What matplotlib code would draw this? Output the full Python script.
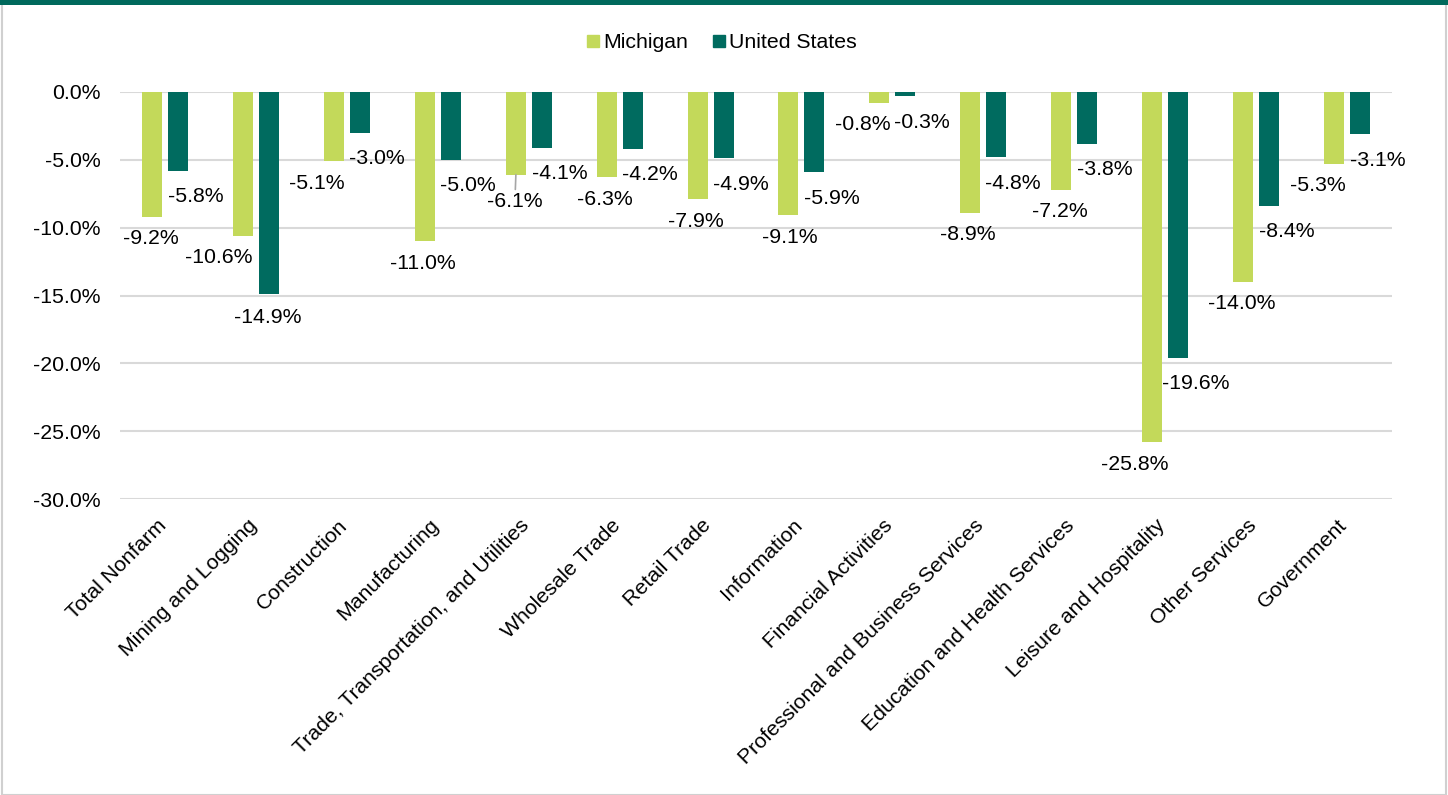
import matplotlib
matplotlib.use("Agg")
import matplotlib.pyplot as plt
import numpy as np
from matplotlib.patches import Patch, Rectangle

categories = [
    "Total Nonfarm", "Mining and Logging", "Construction", "Manufacturing",
    "Trade, Transportation, and Utilities", "Wholesale Trade", "Retail Trade",
    "Information", "Financial Activities", "Professional and Business Services",
    "Education and Health Services", "Leisure and Hospitality",
    "Other Services", "Government",
]
michigan = [-9.2, -10.6, -5.1, -11.0, -6.1, -6.3, -7.9, -9.1, -0.8, -8.9, -7.2, -25.8, -14.0, -5.3]
united_states = [-5.8, -14.9, -3.0, -5.0, -4.1, -4.2, -4.9, -5.9, -0.3, -4.8, -3.8, -19.6, -8.4, -3.1]
y_ticks = [0, -5, -10, -15, -20, -25, -30]

# label nudges (pixels) to mimic the reference's placement
mi_dx = [-2, -25, -17, -2, -1, -2, -2, 1, -16, -2, -1, -17, -1, -16]
us_dx = [17, -2, 17, 17, 18, 17, 17, 17, 17, 17, 18, 18, 18, 18]

LIGHT = "#C3D95A"
DARK = "#006B5F"

plt.rcParams["font.family"] = ["Liberation Sans", "DejaVu Sans"]

fig = plt.figure(figsize=(14.48, 7.95), dpi=100)
ax = fig.add_axes([0.0829, 0.3723, 0.9613 - 0.0829, 0.8843 - 0.3723])

x = np.arange(len(categories))
w = 0.22
off = 0.143
ax.bar(x - off, michigan, w, color=LIGHT, label="Michigan", zorder=3)
ax.bar(x + off, united_states, w, color=DARK, label="United States", zorder=3)

for i, v in enumerate(michigan):
    dy = -22
    kw = {}
    if categories[i].startswith("Trade"):
        dy = -27
        kw = dict(arrowprops=dict(arrowstyle="-", color="#A6A6A6", lw=1.2,
                                  shrinkA=0, shrinkB=0))
    ax.annotate(f"{v:.1f}%", (x[i] - off, v), xytext=(mi_dx[i], dy),
                textcoords="offset pixels", ha="center", va="center",
                fontsize=15.3, color="#000000", **kw)
for i, v in enumerate(united_states):
    dy = -23 if i == 1 else -26
    ax.annotate(f"{v:.1f}%", (x[i] + off, v), xytext=(us_dx[i], dy),
                textcoords="offset pixels", ha="center", va="center",
                fontsize=15.3, color="#000000")

ax.set_xlim(-0.5, len(categories) - 0.5)
ax.set_ylim(-30, 0)
ax.set_yticks(y_ticks)
ax.set_yticklabels([f"{t:.1f}%" for t in y_ticks], fontsize=15.3)
# rotated labels sit a little left of the group centre in the reference
ax.set_xticks(x - 0.1)
ax.set_xticklabels(categories, rotation=45, ha="right", va="top",
                   rotation_mode="anchor", fontsize=15.3)
ax.tick_params(axis="y", length=0, pad=14)
ax.tick_params(axis="x", length=0, pad=12)
ax.grid(axis="y", color="#D9D9D9", lw=1.5, zorder=0)
ax.set_axisbelow(True)
for s in ax.spines.values():
    s.set_visible(False)

handles = [Patch(color=LIGHT, label="Michigan"), Patch(color=DARK, label="United States")]
fig.legend(handles=handles, loc="center", bbox_to_anchor=(0.4986, 0.946), ncol=2,
           frameon=False, fontsize=15.3, handlelength=0.55, handleheight=0.55,
           handletextpad=0.2, columnspacing=1.2)

# frame and top band
fig.patches.append(Rectangle((0.0015, 0), 0.997, 1, transform=fig.transFigure,
                             fill=False, edgecolor="#D0D0D0", lw=1.5))
fig.patches.append(Rectangle((0, 1 - 5 / 795), 1, 5 / 795, transform=fig.transFigure,
                             color="#00695C", lw=0))

fig.savefig("out.png", dpi=100)
